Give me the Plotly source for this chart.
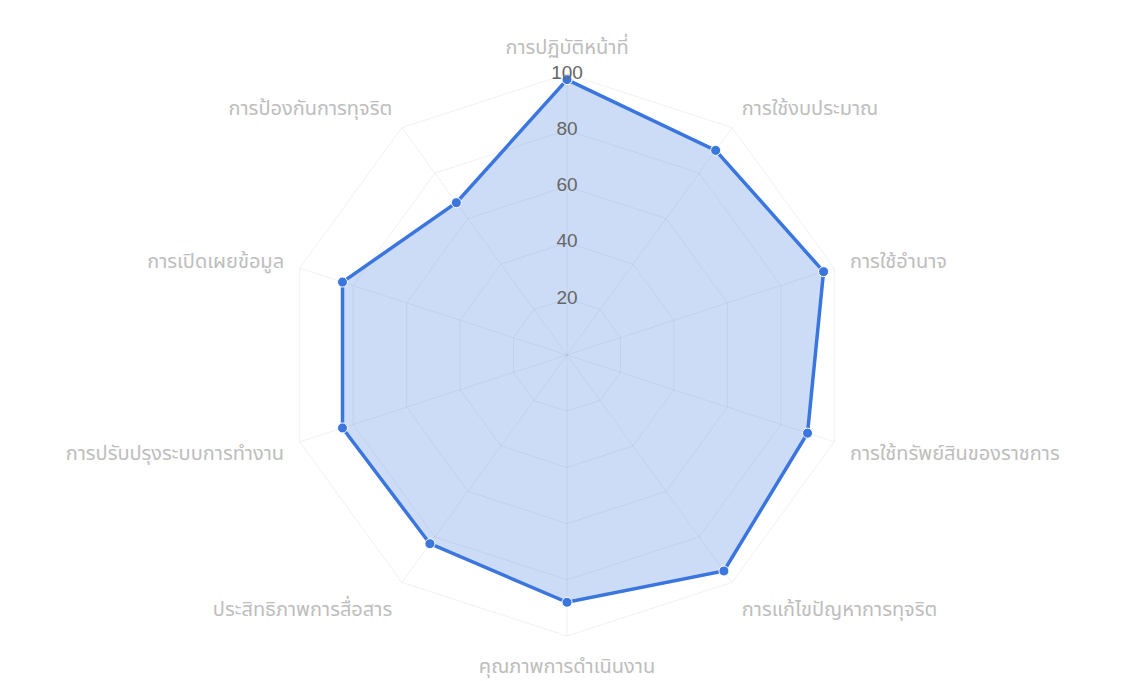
import plotly.graph_objects as go

categories = [
    "การปฏิบัติหน้าที่",
    "การใช้งบประมาณ",
    "การใช้อำนาจ",
    "การใช้ทรัพย์สินของราชการ",
    "การแก้ไขปัญหาการทุจริต",
    "คุณภาพการดำเนินงาน",
    "ประสิทธิภาพการสื่อสาร",
    "การปรับปรุงระบบการทำงาน",
    "การเปิดเผยข้อมูล",
    "การป้องกันการทุจริต",
]
scores = [98, 90, 96, 90, 95, 88, 83, 84, 84, 67]
radial_ticks = [0, 20, 40, 60, 80, 100]
radial_tick_labels = ["0", "20", "40", "60", "80", "100"]

line_color = "rgb(58,118,222)"
fill_color = "rgba(58,118,222,0.26)"
grid_color = "rgba(0,0,0,0.06)"
thai_font = "Tahoma, Noto Sans Thai, Noto Sans, sans-serif"
tick_font = dict(size=19, color="#666666", family="Liberation Sans, Arial, sans-serif")

W, H = 1130, 681
# domain placement (figure coordinates; page adds an 8px body margin)
cx, cy, R = 559, 347, 281
dom_x = [(cx - R) / W, (cx + R) / W]
dom_y = [(H - cy - R) / H, (H - cy + R) / H]

fig = go.Figure()
fig.add_trace(go.Scatterpolar(
    r=scores + [scores[0]],
    theta=categories + [categories[0]],
    mode="lines+markers",
    fill="toself",
    fillcolor=fill_color,
    line=dict(color=line_color, width=3.5),
    marker=dict(size=10, color=line_color, line=dict(color="white", width=1)),
    hoverinfo="r+theta",
    showlegend=False,
))
# radial tick labels 20..100 centred on the vertical axis
fig.add_trace(go.Scatterpolar(
    r=radial_ticks[1:],
    theta=[categories[0]] * (len(radial_ticks) - 1),
    mode="text",
    text=radial_tick_labels[1:],
    textposition="middle center",
    textfont=tick_font,
    cliponaxis=False,
    hoverinfo="skip",
    showlegend=False,
))
# centre label "0": plotly hides polar points at r == range min, so it is placed
# on an invisible cartesian frame sharing the polar domain (its origin = polar centre)
fig.add_trace(go.Scatter(
    x=[radial_ticks[0]],
    y=[radial_ticks[0]],
    mode="text",
    text=radial_tick_labels[:1],
    textposition="middle center",
    textfont=tick_font,
    cliponaxis=False,
    hoverinfo="skip",
    showlegend=False,
))

fig.update_layout(
    width=W, height=H,
    margin=dict(l=0, r=0, t=0, b=0),
    paper_bgcolor="white",
    plot_bgcolor="rgba(0,0,0,0)",
    xaxis=dict(domain=dom_x, range=[-100, 100], visible=False, fixedrange=True),
    yaxis=dict(domain=dom_y, range=[-100, 100], visible=False, fixedrange=True),
    polar=dict(
        domain=dict(x=dom_x, y=dom_y),
        bgcolor="white",
        gridshape="linear",
        angularaxis=dict(
            direction="clockwise",
            rotation=90,
            showline=True,
            linecolor=grid_color,
            linewidth=1,
            gridcolor=grid_color,
            ticks="outside",
            ticklen=12,
            tickwidth=0,
            tickcolor="rgba(255,255,255,0)",
            tickfont=dict(size=20, color="#bdbdbd", family=thai_font),
        ),
        radialaxis=dict(
            range=[0, 100],
            tickvals=radial_ticks[1:],
            showticklabels=False,
            showline=False,
            ticks="",
            gridcolor=grid_color,
            angle=90,
        ),
    ),
)

fig.write_html("out.html")
